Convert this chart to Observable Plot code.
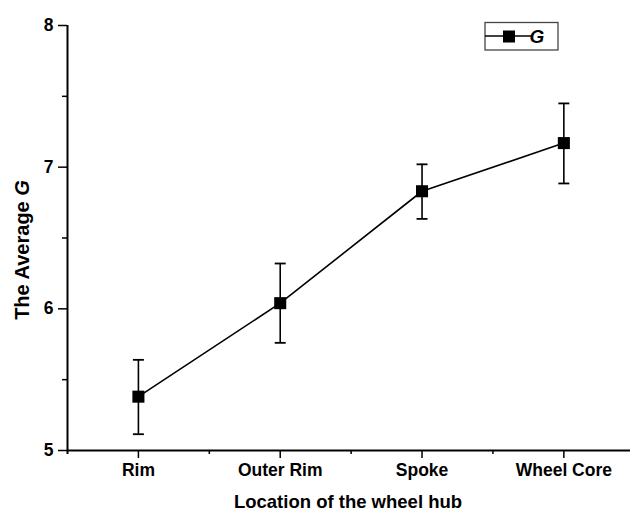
<!DOCTYPE html>
<html>
<head>
<meta charset="utf-8">
<script src="https://cdn.jsdelivr.net/npm/d3@7"></script>
<script src="https://cdn.jsdelivr.net/npm/@observablehq/plot@0.6"></script>
<style>
  html, body { margin: 0; padding: 0; background: #fff; }
  #chart { width: 630px; height: 512px; }
</style>
</head>
<body>
<div id="chart"></div>
<script>
const categories = ["Rim", "Outer Rim", "Spoke", "Wheel Core"];
const means = [5.38, 6.04, 6.83, 7.17];
const upper = [5.64, 6.32, 7.02, 7.45];
const lower = [5.115, 5.76, 6.635, 6.885];
const yTicks = [5, 6, 7, 8];
const yMinorTicks = [5.5, 6.5, 7.5];
const xMinorTicks = [1.5, 2.5, 3.5];
const seriesName = "G";

const data = categories.map((c, i) => ({ c, x: i + 1, m: means[i], lo: lower[i], hi: upper[i] }));

const cap = {
  draw(ctx, size) {
    const w = Math.sqrt(size / Math.PI);
    ctx.moveTo(-w, 0);
    ctx.lineTo(w, 0);
  }
};

const font = "'Liberation Sans', Arial, sans-serif";

const chart = Plot.plot({
  width: 630,
  height: 512,
  marginLeft: 67,
  marginRight: 0,
  marginTop: 25,
  marginBottom: 62,
  style: { fontFamily: font, fontWeight: "bold", color: "#000", background: "#fff" },
  x: { type: "linear", domain: [0.5, 4.47] },
  y: { domain: [5, 8] },
  marks: [
    Plot.axisY(yTicks, { tickSize: 9, tickPadding: 5, fontSize: 17.5, label: null, strokeWidth: 1.5,
      tickFormat: d3.format("d") }),
    Plot.axisY(yMinorTicks, { tickSize: 5, text: null, label: null, strokeWidth: 1.5 }),
    Plot.axisX([1, 2, 3, 4], { tickSize: 8, tickPadding: 5, fontSize: 17.5, label: null, strokeWidth: 1.5,
      tickFormat: (d) => categories[d - 1] }),
    Plot.axisX(xMinorTicks, { tickSize: 4, text: null, label: null, strokeWidth: 1.5 }),
    Plot.ruleY([5], { strokeWidth: 2 }),
    Plot.ruleX([0.5], { strokeWidth: 2, insetBottom: -4 }),
    Plot.ruleX(data, { x: "x", y1: "lo", y2: "hi", strokeWidth: 1.6 }),
    Plot.dot(data, { x: "x", y: "lo", symbol: cap, r: 5.5, stroke: "black", strokeWidth: 1.8 }),
    Plot.dot(data, { x: "x", y: "hi", symbol: cap, r: 5.5, stroke: "black", strokeWidth: 1.8 }),
    Plot.line(data, { x: "x", y: "m", strokeWidth: 1.6, stroke: "black" }),
    Plot.dot(data, { x: "x", y: "m", symbol: "square", r: 6.8, fill: "black", stroke: "none" })
  ]
});

const svg = d3.select(chart);

// Axis titles
svg.append("text")
  .attr("x", 348).attr("y", 508)
  .attr("text-anchor", "middle")
  .style("font-family", font).style("font-weight", "bold").style("font-size", "18.5px")
  .text("Location of the wheel hub");

const yt = svg.append("text")
  .attr("transform", "translate(28.5,250) rotate(-90)")
  .attr("text-anchor", "middle")
  .style("font-family", font).style("font-weight", "bold").style("font-size", "20px");
yt.append("tspan").text("The Average ");
yt.append("tspan").style("font-style", "italic").text(seriesName);

// Legend
const lg = svg.append("g");
lg.append("rect").attr("x", 485).attr("y", 22.5).attr("width", 73).attr("height", 27.5)
  .attr("fill", "white").attr("stroke", "#444").attr("stroke-width", 1.3);
lg.append("line").attr("x1", 485).attr("x2", 531).attr("y1", 36).attr("y2", 36)
  .attr("stroke", "black").attr("stroke-width", 1.6);
lg.append("rect").attr("x", 503).attr("y", 30.5).attr("width", 12).attr("height", 12).attr("fill", "black");
lg.append("text").attr("x", 537).attr("y", 43)
  .style("font-family", font).style("font-weight", "bold").style("font-style", "italic").style("font-size", "19px")
  .text(seriesName);

document.getElementById("chart").appendChild(chart);
</script>
</body>
</html>
